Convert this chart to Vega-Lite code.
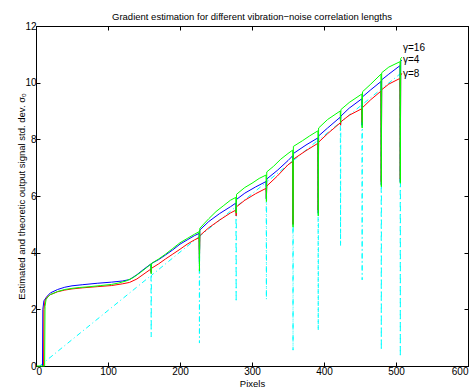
{
 "$schema": "https://vega.github.io/schema/vega-lite/v6.json",
 "width": 432, "height": 340,
 "autosize": {"type": "none"},
 "padding": {"left": 36, "top": 26, "right": 7, "bottom": 24},
 "background": "white",
 "title": {"text": "Gradient estimation for different vibration−noise correlation lengths", "fontSize": 9.5, "font": "Liberation Sans", "fontWeight": "normal", "offset": 0, "color": "black"},
 "config": {
  "view": {"stroke": "black", "strokeWidth": 1},
  "axis": {"domainColor": "black", "tickColor": "black", "labelColor": "black", "titleColor": "black", "labelFont": "Liberation Sans", "titleFont": "Liberation Sans", "labelFontSize": 10, "titleFontSize": 9.5, "titleFontWeight": "normal", "grid": false, "tickSize": -4, "labelPadding": 4, "domainWidth": 1, "tickWidth": 1}
 },
 "datasets": {
  "lines": [
   {"s":"c","x":5,"y":0},{"s":"c","x":159.7,"y":3.19},{"s":"c","x":160,"y":1.03},{"s":"c","x":160.3,"y":3.2},{"s":"c","x":226.7,"y":4.57},{"s":"c","x":227,"y":0.81},{"s":"c","x":227.3,"y":4.58},{"s":"c","x":277.7,"y":5.62},{"s":"c","x":278,"y":2.27},{"s":"c","x":278.3,"y":5.63},{"s":"c","x":319.7,"y":6.48},{"s":"c","x":320,"y":2.35},{"s":"c","x":320.3,"y":6.49},{"s":"c","x":356.7,"y":7.24},{"s":"c","x":357,"y":0.56},{"s":"c","x":357.3,"y":7.25},{"s":"c","x":391.7,"y":7.97},{"s":"c","x":392,"y":1.25},{"s":"c","x":392.3,"y":7.97},{"s":"c","x":422.7,"y":8.6},{"s":"c","x":423,"y":4.24},{"s":"c","x":423.3,"y":8.61},{"s":"c","x":452.7,"y":9.22},{"s":"c","x":453,"y":3.04},{"s":"c","x":453.3,"y":9.23},{"s":"c","x":479.3,"y":9.77},{"s":"c","x":479.6,"y":0.56},{"s":"c","x":479.9,"y":9.78},{"s":"c","x":505.7,"y":10.31},{"s":"c","x":506,"y":0.33},{"s":"c","x":506.3,"y":10.32},
   {"s":"g","x":1,"y":0},{"s":"g","x":12,"y":0},{"s":"g","x":12.5,"y":2.1},{"s":"g","x":14,"y":2.35},{"s":"g","x":17,"y":2.45},{"s":"g","x":20,"y":2.52},{"s":"g","x":30,"y":2.63},{"s":"g","x":40,"y":2.7},{"s":"g","x":50,"y":2.74},{"s":"g","x":60,"y":2.77},{"s":"g","x":75,"y":2.8},{"s":"g","x":90,"y":2.84},{"s":"g","x":105,"y":2.88},{"s":"g","x":115,"y":2.93},{"s":"g","x":125,"y":3.0},{"s":"g","x":135,"y":3.12},{"s":"g","x":145,"y":3.3},{"s":"g","x":155,"y":3.5},{"s":"g","x":159.5,"y":3.6},{"s":"g","x":160,"y":3.25},{"s":"g","x":160.5,"y":3.62},{"s":"g","x":170,"y":3.77},{"s":"g","x":180,"y":3.95},{"s":"g","x":190,"y":4.15},{"s":"g","x":200,"y":4.35},{"s":"g","x":210,"y":4.5},{"s":"g","x":220,"y":4.65},{"s":"g","x":226.5,"y":4.74},{"s":"g","x":227,"y":3.35},{"s":"g","x":227.5,"y":4.86},{"s":"g","x":240,"y":5.2},{"s":"g","x":250,"y":5.45},{"s":"g","x":260,"y":5.65},{"s":"g","x":270,"y":5.85},{"s":"g","x":277.5,"y":5.95},{"s":"g","x":278,"y":5.4},{"s":"g","x":278.5,"y":6.06},{"s":"g","x":290,"y":6.3},{"s":"g","x":300,"y":6.45},{"s":"g","x":310,"y":6.62},{"s":"g","x":319.5,"y":6.74},{"s":"g","x":320,"y":5.8},{"s":"g","x":320.5,"y":6.85},{"s":"g","x":330,"y":7.05},{"s":"g","x":340,"y":7.3},{"s":"g","x":350,"y":7.5},{"s":"g","x":356.5,"y":7.62},{"s":"g","x":357,"y":4.9},{"s":"g","x":357.5,"y":7.75},{"s":"g","x":370,"y":7.95},{"s":"g","x":380,"y":8.12},{"s":"g","x":391.5,"y":8.3},{"s":"g","x":392,"y":5.3},{"s":"g","x":392.5,"y":8.4},{"s":"g","x":405,"y":8.7},{"s":"g","x":422.5,"y":9.0},{"s":"g","x":423,"y":8.6},{"s":"g","x":423.5,"y":9.05},{"s":"g","x":435,"y":9.3},{"s":"g","x":452.5,"y":9.6},{"s":"g","x":453,"y":8.4},{"s":"g","x":453.5,"y":9.68},{"s":"g","x":465,"y":9.95},{"s":"g","x":479.1,"y":10.3},{"s":"g","x":479.6,"y":6.33},{"s":"g","x":480.1,"y":10.35},{"s":"g","x":490,"y":10.55},{"s":"g","x":505.5,"y":10.74},{"s":"g","x":506,"y":6.45},{"s":"g","x":506.5,"y":10.85},{"s":"g","x":508,"y":10.9},
   {"s":"b","x":9,"y":0},{"s":"b","x":9.5,"y":2.0},{"s":"b","x":11,"y":2.3},{"s":"b","x":15,"y":2.45},{"s":"b","x":20,"y":2.58},{"s":"b","x":30,"y":2.7},{"s":"b","x":40,"y":2.78},{"s":"b","x":50,"y":2.83},{"s":"b","x":65,"y":2.87},{"s":"b","x":85,"y":2.92},{"s":"b","x":105,"y":2.96},{"s":"b","x":120,"y":3.0},{"s":"b","x":130,"y":3.05},{"s":"b","x":140,"y":3.22},{"s":"b","x":150,"y":3.42},{"s":"b","x":159.5,"y":3.6},{"s":"b","x":160,"y":3.3},{"s":"b","x":160.5,"y":3.62},{"s":"b","x":170,"y":3.75},{"s":"b","x":180,"y":3.92},{"s":"b","x":190,"y":4.1},{"s":"b","x":200,"y":4.3},{"s":"b","x":210,"y":4.45},{"s":"b","x":220,"y":4.6},{"s":"b","x":226.5,"y":4.68},{"s":"b","x":227,"y":3.6},{"s":"b","x":227.5,"y":4.8},{"s":"b","x":240,"y":5.1},{"s":"b","x":255,"y":5.38},{"s":"b","x":270,"y":5.62},{"s":"b","x":277.5,"y":5.75},{"s":"b","x":278,"y":5.45},{"s":"b","x":278.5,"y":5.88},{"s":"b","x":290,"y":6.1},{"s":"b","x":305,"y":6.32},{"s":"b","x":319.5,"y":6.51},{"s":"b","x":320,"y":5.9},{"s":"b","x":320.5,"y":6.6},{"s":"b","x":335,"y":6.9},{"s":"b","x":350,"y":7.25},{"s":"b","x":356.5,"y":7.42},{"s":"b","x":357,"y":5.0},{"s":"b","x":357.5,"y":7.5},{"s":"b","x":375,"y":7.8},{"s":"b","x":391.5,"y":8.05},{"s":"b","x":392,"y":5.4},{"s":"b","x":392.5,"y":8.12},{"s":"b","x":405,"y":8.4},{"s":"b","x":422.5,"y":8.78},{"s":"b","x":423,"y":8.6},{"s":"b","x":423.5,"y":8.82},{"s":"b","x":435,"y":9.1},{"s":"b","x":452.5,"y":9.43},{"s":"b","x":453,"y":8.5},{"s":"b","x":453.5,"y":9.5},{"s":"b","x":465,"y":9.75},{"s":"b","x":479.1,"y":10.04},{"s":"b","x":479.6,"y":6.4},{"s":"b","x":480.1,"y":10.1},{"s":"b","x":490,"y":10.3},{"s":"b","x":505.5,"y":10.6},{"s":"b","x":506,"y":6.5},{"s":"b","x":506.5,"y":10.75},{"s":"b","x":508,"y":10.8},
   {"s":"r","x":10.5,"y":0},{"s":"r","x":11,"y":2.0},{"s":"r","x":12.5,"y":2.3},{"s":"r","x":15,"y":2.42},{"s":"r","x":20,"y":2.52},{"s":"r","x":30,"y":2.62},{"s":"r","x":40,"y":2.68},{"s":"r","x":50,"y":2.72},{"s":"r","x":65,"y":2.76},{"s":"r","x":85,"y":2.8},{"s":"r","x":105,"y":2.84},{"s":"r","x":120,"y":2.9},{"s":"r","x":130,"y":2.95},{"s":"r","x":140,"y":3.07},{"s":"r","x":150,"y":3.25},{"s":"r","x":159.5,"y":3.42},{"s":"r","x":160,"y":3.3},{"s":"r","x":160.5,"y":3.45},{"s":"r","x":170,"y":3.6},{"s":"r","x":180,"y":3.78},{"s":"r","x":190,"y":3.95},{"s":"r","x":200,"y":4.12},{"s":"r","x":210,"y":4.3},{"s":"r","x":220,"y":4.45},{"s":"r","x":226.5,"y":4.53},{"s":"r","x":227,"y":3.8},{"s":"r","x":227.5,"y":4.6},{"s":"r","x":240,"y":4.88},{"s":"r","x":255,"y":5.15},{"s":"r","x":270,"y":5.4},{"s":"r","x":277.5,"y":5.5},{"s":"r","x":278,"y":5.3},{"s":"r","x":278.5,"y":5.62},{"s":"r","x":290,"y":5.85},{"s":"r","x":305,"y":6.08},{"s":"r","x":319.5,"y":6.27},{"s":"r","x":320,"y":5.9},{"s":"r","x":320.5,"y":6.35},{"s":"r","x":335,"y":6.7},{"s":"r","x":350,"y":7.1},{"s":"r","x":356.5,"y":7.22},{"s":"r","x":357,"y":5.0},{"s":"r","x":357.5,"y":7.3},{"s":"r","x":375,"y":7.6},{"s":"r","x":391.5,"y":7.86},{"s":"r","x":392,"y":5.5},{"s":"r","x":392.5,"y":7.9},{"s":"r","x":405,"y":8.2},{"s":"r","x":422.5,"y":8.58},{"s":"r","x":423,"y":8.5},{"s":"r","x":423.5,"y":8.62},{"s":"r","x":435,"y":8.85},{"s":"r","x":452.5,"y":9.08},{"s":"r","x":453,"y":8.6},{"s":"r","x":453.5,"y":9.12},{"s":"r","x":465,"y":9.4},{"s":"r","x":479.1,"y":9.7},{"s":"r","x":479.6,"y":6.5},{"s":"r","x":480.1,"y":9.75},{"s":"r","x":490,"y":9.95},{"s":"r","x":505.5,"y":10.15},{"s":"r","x":506,"y":6.6},{"s":"r","x":506.5,"y":10.25},{"s":"r","x":508,"y":10.33}
  ],
  "labels": [
   {"x": 509.7, "y": 11.21, "t": "γ=16"},
   {"x": 509.7, "y": 10.8, "t": "γ=4"},
   {"x": 509.7, "y": 10.31, "t": "γ=8"}
  ]
 },
 "layer": [
  {
   "data": {"name": "lines"},
   "transform": [{"filter": "datum.s == 'c'"}],
   "mark": {"type": "line", "color": "#00ffff", "strokeWidth": 1, "strokeDash": [5, 3, 1, 3]},
   "encoding": {
    "x": {"field": "x", "type": "quantitative", "scale": {"domain": [0, 600], "nice": false}, "axis": {"title": "Pixels", "values": [0, 100, 200, 300, 400, 500, 600], "titlePadding": 2}},
    "y": {"field": "y", "type": "quantitative", "scale": {"domain": [0, 12], "nice": false}, "axis": {"title": "Estimated and theoretic output signal std. dev. σₒ", "values": [0, 2, 4, 6, 8, 10, 12], "titlePadding": -2}}
   }
  },
  {
   "data": {"name": "lines"},
   "transform": [{"filter": "datum.s == 'b'"}],
   "mark": {"type": "line", "color": "#0000ff", "strokeWidth": 1},
   "encoding": {
    "x": {"field": "x", "type": "quantitative", "axis": null},
    "y": {"field": "y", "type": "quantitative", "axis": null}
   }
  },
  {
   "data": {"name": "lines"},
   "transform": [{"filter": "datum.s == 'r'"}],
   "mark": {"type": "line", "color": "#ff0000", "strokeWidth": 1},
   "encoding": {
    "x": {"field": "x", "type": "quantitative", "axis": null},
    "y": {"field": "y", "type": "quantitative", "axis": null}
   }
  },
  {
   "data": {"name": "lines"},
   "transform": [{"filter": "datum.s == 'g'"}],
   "mark": {"type": "line", "color": "#00ff00", "strokeWidth": 1},
   "encoding": {
    "x": {"field": "x", "type": "quantitative", "axis": null},
    "y": {"field": "y", "type": "quantitative", "axis": null}
   }
  },
  {
   "data": {"name": "labels"},
   "mark": {"type": "text", "align": "left", "baseline": "middle", "font": "Liberation Sans", "fontSize": 10, "color": "black"},
   "encoding": {
    "x": {"field": "x", "type": "quantitative", "axis": {"orient": "top", "labels": false, "title": null, "values": [0, 100, 200, 300, 400, 500, 600]}},
    "y": {"field": "y", "type": "quantitative", "axis": {"orient": "right", "labels": false, "title": null, "values": [0, 2, 4, 6, 8, 10, 12]}},
    "text": {"field": "t"}
   }
  }
 ],
 "resolve": {"axis": {"x": "independent", "y": "independent"}}
}
